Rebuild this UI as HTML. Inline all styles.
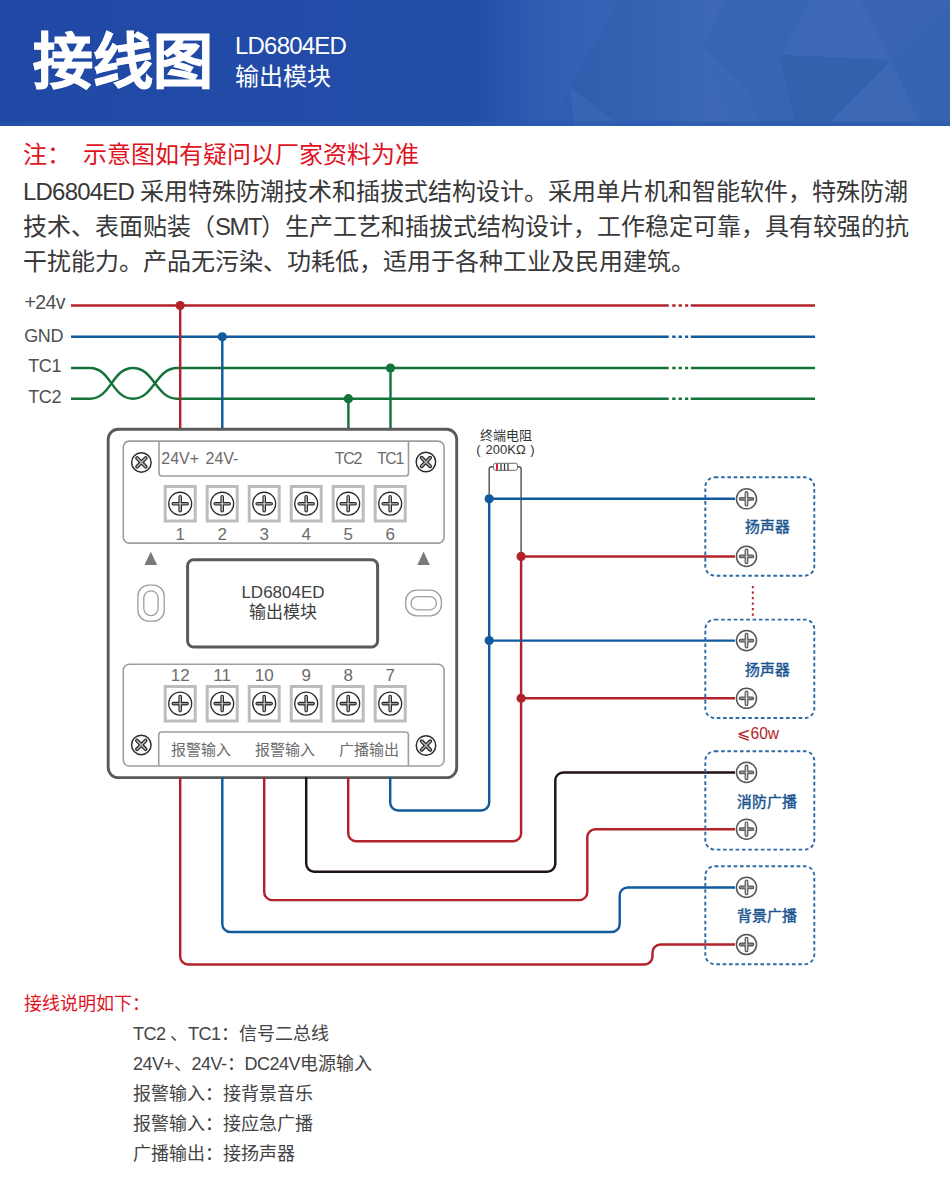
<!DOCTYPE html>
<html lang="zh-CN"><head><meta charset="utf-8">
<style>
html,body{margin:0;padding:0;background:#fff;}
body{width:950px;height:1179px;position:relative;overflow:hidden;font-family:"Liberation Sans",sans-serif;}
.abs{position:absolute;white-space:nowrap;}
#banner{position:absolute;left:0;top:0;width:950px;height:126px;}
.t1{left:33px;top:28px;font-size:60px;font-weight:900;-webkit-text-stroke:1px #fff;color:#fff;line-height:70px;}
.t2{left:235px;top:30px;font-size:24px;color:#fff;line-height:31px;}
.lat{letter-spacing:-0.8px;}
.note{left:23px;top:139px;font-size:24px;color:#e0141e;line-height:32px;}
.para{left:23px;top:174px;font-size:24px;color:#383838;line-height:35px;}
svg{position:absolute;left:0;top:0;}
</style></head>
<body>
<svg id="banner" width="950" height="126" viewBox="0 0 950 126">
  <defs>
    <linearGradient id="bg" x1="0" y1="0" x2="950" y2="0" gradientUnits="userSpaceOnUse">
      <stop offset="0" stop-color="#2048a5"/>
      <stop offset="0.5" stop-color="#234ea8"/>
      <stop offset="0.64" stop-color="#305eb1"/>
      <stop offset="1" stop-color="#3a66b5"/>
    </linearGradient>
    <linearGradient id="wg" x1="470" y1="0" x2="619" y2="0" gradientUnits="userSpaceOnUse">
      <stop offset="0" stop-color="#3665b6" stop-opacity="0"/>
      <stop offset="1" stop-color="#3665b6" stop-opacity="0.85"/>
    </linearGradient>
    <linearGradient id="df" x1="580" y1="0" x2="704" y2="0" gradientUnits="userSpaceOnUse">
      <stop offset="0" stop-color="#305dae"/>
      <stop offset="1" stop-color="#3a67b6"/>
    </linearGradient>
  </defs>
  <rect width="950" height="126" fill="url(#bg)"/>
  <polygon points="470,0 619,0 570,87 552,126 470,126" fill="url(#wg)"/>
  <polygon points="619,0 700,0 704,126 621,126 570,87" fill="url(#df)"/>
  <polygon points="570,87 552,126 574,126" fill="#2f5db0"/>
  <polygon points="570,87 574,126 621,126" fill="#3866b5"/>
  <polygon points="700,0 725,0 703.6,47 747,89 760,126 704,126" fill="#3c68b7"/>
  <polygon points="725,0 810,0 780,55 796,126 760,126 747,89 703.6,47" fill="#3864b4"/>
  <polygon points="703.6,47 747,89 760,126 730,126" fill="#3a67b6"/>
  <polygon points="810,0 861,0 891,60 780,55" fill="#3d68b7"/>
  <polygon points="780,55 891,60 827,126 796,126" fill="#3461ae"/>
  <polygon points="891,60 921,126 827,126" fill="#3c68b6"/>
  <polygon points="861,0 950,0 950,10 930,22 891,60" fill="#3864b3"/>
  <polygon points="891,60 930,22 950,10 950,126 921,126" fill="#3764b2"/>
  <rect x="0" y="121.5" width="950" height="4.5" fill="#2a56ad" opacity="0.6"/>
</svg>
<div class="abs t1">接线图</div>
<div class="abs t2"><span class="lat">LD6804ED</span><br>输出模块</div>
<div class="abs note">注：<span style="margin-left:11.5px">示意图如有疑问以厂家资料为准</span></div>
<div class="abs para"><span class="lat">LD6804ED </span>采用特殊防潮技术和插拔式结构设计。采用单片机和智能软件，特殊防潮<br>技术、表面贴装（<span class="lat" style="letter-spacing:-1.5px">SMT</span>）生产工艺和插拔式结构设计，工作稳定可靠，具有较强的抗<br>干扰能力。产品无污染、功耗低，适用于各种工业及民用建筑。</div>

<div class="abs" style="left:24px;top:989px;font-size:18px;line-height:30px;color:#e0141e;">接线说明如下：</div>
<div class="abs" style="left:133px;top:1019px;font-size:18px;line-height:30px;color:#444;"><span class="lat" style="letter-spacing:-0.5px">TC2 </span>、<span class="lat" style="letter-spacing:-0.5px">TC1</span>：信号二总线<br><span class="lat" style="letter-spacing:-0.5px">24V+</span>、<span class="lat" style="letter-spacing:-0.5px">24V-</span>：<span class="lat" style="letter-spacing:-0.5px">DC24V</span>电源输入<br>报警输入：接背景音乐<br>报警输入：接应急广播<br>广播输出：接扬声器</div>
<svg width="950" height="1179" viewBox="0 0 950 1179" style="top:0">
<path d="M71,305.5H668.7M690.8,305.5H815" stroke="#b3222a" stroke-width="2.45" fill="none"/>
<path d="M672.2,305.5H675.6M678.6,305.5H681.9M685.1,305.5H688.2" stroke="#b3222a" stroke-width="2.45" fill="none"/>
<path d="M71,336.8H668.7M690.8,336.8H815" stroke="#115a9e" stroke-width="2.45" fill="none"/>
<path d="M672.2,336.8H675.6M678.6,336.8H681.9M685.1,336.8H688.2" stroke="#115a9e" stroke-width="2.45" fill="none"/>
<path d="M177,368H668.7M690.8,368H815" stroke="#14733a" stroke-width="2.45" fill="none"/>
<path d="M672.2,368H675.6M678.6,368H681.9M685.1,368H688.2" stroke="#14733a" stroke-width="2.45" fill="none"/>
<path d="M177,398.7H668.7M690.8,398.7H815" stroke="#14733a" stroke-width="2.45" fill="none"/>
<path d="M672.2,398.7H675.6M678.6,398.7H681.9M685.1,398.7H688.2" stroke="#14733a" stroke-width="2.45" fill="none"/>
<path d="M71,368H90C111,368 112,398.7 133,398.7C154,398.7 156,368 177,368" stroke="#14733a" stroke-width="2.45" fill="none"/>
<path d="M71,398.7H90C111,398.7 112,368 133,368C154,368 156,398.7 177,398.7" stroke="#14733a" stroke-width="2.45" fill="none"/>
<path d="M180.2,305.5V430" stroke="#b3222a" stroke-width="2.45"/>
<circle cx="180.2" cy="305.5" r="4.6" fill="#b3222a"/>
<path d="M222.3,336.8V430" stroke="#115a9e" stroke-width="2.45"/>
<circle cx="222.3" cy="336.8" r="4.6" fill="#115a9e"/>
<path d="M348.4,398.7V430" stroke="#14733a" stroke-width="2.45"/>
<circle cx="348.4" cy="398.7" r="4.6" fill="#14733a"/>
<path d="M390.5,368V430" stroke="#14733a" stroke-width="2.45"/>
<circle cx="390.5" cy="368" r="4.6" fill="#14733a"/>
<g font-size="18" fill="#505050" text-anchor="end" letter-spacing="-0.4">
<text x="65" y="308.8" font-size="19.5" letter-spacing="-0.6">+24v</text><text x="63" y="341.8">GND</text><text x="61" y="372">TC1</text><text x="61" y="402.5">TC2</text>
</g>
<rect x="108.2" y="429.3" width="348.5" height="348.3" rx="10" fill="#fff" stroke="#5a5a5a" stroke-width="2.9"/>
<rect x="123.3" y="441.1" width="320.8" height="102" rx="6" fill="none" stroke="#9e9e9e" stroke-width="1.6"/>
<path d="M159,441.1V473a3,3 0 0 0 3,3H405.5a3,3 0 0 0 3,-3V441.1" fill="none" stroke="#9e9e9e" stroke-width="1.6"/>
<rect x="123.3" y="664.2" width="320.8" height="101.8" rx="6" fill="none" stroke="#9e9e9e" stroke-width="1.6"/>
<path d="M158.7,766V735a3,3 0 0 1 3,-3H405.4a3,3 0 0 1 3,3V766" fill="none" stroke="#9e9e9e" stroke-width="1.6"/>
<circle cx="141.4" cy="462.4" r="9.75" fill="#fff" stroke="#2b2b2b" stroke-width="1.45"/>
<path d="M137.1,458.09999999999997L145.70000000000002,466.7M145.70000000000002,458.09999999999997L137.1,466.7" stroke="#2b2b2b" stroke-width="3.9" stroke-linecap="round"/>
<path d="M137.1,458.09999999999997L145.70000000000002,466.7M145.70000000000002,458.09999999999997L137.1,466.7" stroke="#b0b0b0" stroke-width="1.5" stroke-linecap="round"/>
<circle cx="425.9" cy="462" r="9.75" fill="#fff" stroke="#2b2b2b" stroke-width="1.45"/>
<path d="M421.59999999999997,457.7L430.2,466.3M430.2,457.7L421.59999999999997,466.3" stroke="#2b2b2b" stroke-width="3.9" stroke-linecap="round"/>
<path d="M421.59999999999997,457.7L430.2,466.3M430.2,457.7L421.59999999999997,466.3" stroke="#b0b0b0" stroke-width="1.5" stroke-linecap="round"/>
<circle cx="141.3" cy="744.9" r="9.75" fill="#fff" stroke="#2b2b2b" stroke-width="1.45"/>
<path d="M137.0,740.6L145.60000000000002,749.1999999999999M145.60000000000002,740.6L137.0,749.1999999999999" stroke="#2b2b2b" stroke-width="3.9" stroke-linecap="round"/>
<path d="M137.0,740.6L145.60000000000002,749.1999999999999M145.60000000000002,740.6L137.0,749.1999999999999" stroke="#b0b0b0" stroke-width="1.5" stroke-linecap="round"/>
<circle cx="426" cy="745.5" r="9.75" fill="#fff" stroke="#2b2b2b" stroke-width="1.45"/>
<path d="M421.7,741.2L430.3,749.8M430.3,741.2L421.7,749.8" stroke="#2b2b2b" stroke-width="3.9" stroke-linecap="round"/>
<path d="M421.7,741.2L430.3,749.8M430.3,741.2L421.7,749.8" stroke="#b0b0b0" stroke-width="1.5" stroke-linecap="round"/>
<rect x="165.2" y="486.5" width="30" height="34.5" fill="#fff" stroke="#bcbcbc" stroke-width="3"/>
<circle cx="180.2" cy="503.7" r="11.45" fill="#fff" stroke="#2b2b2b" stroke-width="1.35"/>
<path d="M173.2,503.7H187.2M180.2,496.7V510.7" stroke="#2b2b2b" stroke-width="3.6" stroke-linecap="round"/>
<path d="M173.2,503.7H187.2" stroke="#9a9a9a" stroke-width="1.4" stroke-linecap="round"/>
<path d="M180.2,496.7V510.7" stroke="#d8d8d8" stroke-width="1.2000000000000002" stroke-linecap="round"/>
<rect x="165.2" y="686.5" width="30" height="34.5" fill="#fff" stroke="#bcbcbc" stroke-width="3"/>
<circle cx="180.2" cy="703.6" r="11.45" fill="#fff" stroke="#2b2b2b" stroke-width="1.35"/>
<path d="M173.2,703.6H187.2M180.2,696.6V710.6" stroke="#2b2b2b" stroke-width="3.6" stroke-linecap="round"/>
<path d="M173.2,703.6H187.2" stroke="#9a9a9a" stroke-width="1.4" stroke-linecap="round"/>
<path d="M180.2,696.6V710.6" stroke="#d8d8d8" stroke-width="1.2000000000000002" stroke-linecap="round"/>
<rect x="207.2" y="486.5" width="30" height="34.5" fill="#fff" stroke="#bcbcbc" stroke-width="3"/>
<circle cx="222.2" cy="503.7" r="11.45" fill="#fff" stroke="#2b2b2b" stroke-width="1.35"/>
<path d="M215.2,503.7H229.2M222.2,496.7V510.7" stroke="#2b2b2b" stroke-width="3.6" stroke-linecap="round"/>
<path d="M215.2,503.7H229.2" stroke="#9a9a9a" stroke-width="1.4" stroke-linecap="round"/>
<path d="M222.2,496.7V510.7" stroke="#d8d8d8" stroke-width="1.2000000000000002" stroke-linecap="round"/>
<rect x="207.2" y="686.5" width="30" height="34.5" fill="#fff" stroke="#bcbcbc" stroke-width="3"/>
<circle cx="222.2" cy="703.6" r="11.45" fill="#fff" stroke="#2b2b2b" stroke-width="1.35"/>
<path d="M215.2,703.6H229.2M222.2,696.6V710.6" stroke="#2b2b2b" stroke-width="3.6" stroke-linecap="round"/>
<path d="M215.2,703.6H229.2" stroke="#9a9a9a" stroke-width="1.4" stroke-linecap="round"/>
<path d="M222.2,696.6V710.6" stroke="#d8d8d8" stroke-width="1.2000000000000002" stroke-linecap="round"/>
<rect x="249.2" y="486.5" width="30" height="34.5" fill="#fff" stroke="#bcbcbc" stroke-width="3"/>
<circle cx="264.2" cy="503.7" r="11.45" fill="#fff" stroke="#2b2b2b" stroke-width="1.35"/>
<path d="M257.2,503.7H271.2M264.2,496.7V510.7" stroke="#2b2b2b" stroke-width="3.6" stroke-linecap="round"/>
<path d="M257.2,503.7H271.2" stroke="#9a9a9a" stroke-width="1.4" stroke-linecap="round"/>
<path d="M264.2,496.7V510.7" stroke="#d8d8d8" stroke-width="1.2000000000000002" stroke-linecap="round"/>
<rect x="249.2" y="686.5" width="30" height="34.5" fill="#fff" stroke="#bcbcbc" stroke-width="3"/>
<circle cx="264.2" cy="703.6" r="11.45" fill="#fff" stroke="#2b2b2b" stroke-width="1.35"/>
<path d="M257.2,703.6H271.2M264.2,696.6V710.6" stroke="#2b2b2b" stroke-width="3.6" stroke-linecap="round"/>
<path d="M257.2,703.6H271.2" stroke="#9a9a9a" stroke-width="1.4" stroke-linecap="round"/>
<path d="M264.2,696.6V710.6" stroke="#d8d8d8" stroke-width="1.2000000000000002" stroke-linecap="round"/>
<rect x="291.2" y="486.5" width="30" height="34.5" fill="#fff" stroke="#bcbcbc" stroke-width="3"/>
<circle cx="306.2" cy="503.7" r="11.45" fill="#fff" stroke="#2b2b2b" stroke-width="1.35"/>
<path d="M299.2,503.7H313.2M306.2,496.7V510.7" stroke="#2b2b2b" stroke-width="3.6" stroke-linecap="round"/>
<path d="M299.2,503.7H313.2" stroke="#9a9a9a" stroke-width="1.4" stroke-linecap="round"/>
<path d="M306.2,496.7V510.7" stroke="#d8d8d8" stroke-width="1.2000000000000002" stroke-linecap="round"/>
<rect x="291.2" y="686.5" width="30" height="34.5" fill="#fff" stroke="#bcbcbc" stroke-width="3"/>
<circle cx="306.2" cy="703.6" r="11.45" fill="#fff" stroke="#2b2b2b" stroke-width="1.35"/>
<path d="M299.2,703.6H313.2M306.2,696.6V710.6" stroke="#2b2b2b" stroke-width="3.6" stroke-linecap="round"/>
<path d="M299.2,703.6H313.2" stroke="#9a9a9a" stroke-width="1.4" stroke-linecap="round"/>
<path d="M306.2,696.6V710.6" stroke="#d8d8d8" stroke-width="1.2000000000000002" stroke-linecap="round"/>
<rect x="333.2" y="486.5" width="30" height="34.5" fill="#fff" stroke="#bcbcbc" stroke-width="3"/>
<circle cx="348.2" cy="503.7" r="11.45" fill="#fff" stroke="#2b2b2b" stroke-width="1.35"/>
<path d="M341.2,503.7H355.2M348.2,496.7V510.7" stroke="#2b2b2b" stroke-width="3.6" stroke-linecap="round"/>
<path d="M341.2,503.7H355.2" stroke="#9a9a9a" stroke-width="1.4" stroke-linecap="round"/>
<path d="M348.2,496.7V510.7" stroke="#d8d8d8" stroke-width="1.2000000000000002" stroke-linecap="round"/>
<rect x="333.2" y="686.5" width="30" height="34.5" fill="#fff" stroke="#bcbcbc" stroke-width="3"/>
<circle cx="348.2" cy="703.6" r="11.45" fill="#fff" stroke="#2b2b2b" stroke-width="1.35"/>
<path d="M341.2,703.6H355.2M348.2,696.6V710.6" stroke="#2b2b2b" stroke-width="3.6" stroke-linecap="round"/>
<path d="M341.2,703.6H355.2" stroke="#9a9a9a" stroke-width="1.4" stroke-linecap="round"/>
<path d="M348.2,696.6V710.6" stroke="#d8d8d8" stroke-width="1.2000000000000002" stroke-linecap="round"/>
<rect x="375.2" y="486.5" width="30" height="34.5" fill="#fff" stroke="#bcbcbc" stroke-width="3"/>
<circle cx="390.2" cy="503.7" r="11.45" fill="#fff" stroke="#2b2b2b" stroke-width="1.35"/>
<path d="M383.2,503.7H397.2M390.2,496.7V510.7" stroke="#2b2b2b" stroke-width="3.6" stroke-linecap="round"/>
<path d="M383.2,503.7H397.2" stroke="#9a9a9a" stroke-width="1.4" stroke-linecap="round"/>
<path d="M390.2,496.7V510.7" stroke="#d8d8d8" stroke-width="1.2000000000000002" stroke-linecap="round"/>
<rect x="375.2" y="686.5" width="30" height="34.5" fill="#fff" stroke="#bcbcbc" stroke-width="3"/>
<circle cx="390.2" cy="703.6" r="11.45" fill="#fff" stroke="#2b2b2b" stroke-width="1.35"/>
<path d="M383.2,703.6H397.2M390.2,696.6V710.6" stroke="#2b2b2b" stroke-width="3.6" stroke-linecap="round"/>
<path d="M383.2,703.6H397.2" stroke="#9a9a9a" stroke-width="1.4" stroke-linecap="round"/>
<path d="M390.2,696.6V710.6" stroke="#d8d8d8" stroke-width="1.2000000000000002" stroke-linecap="round"/>
<g font-size="17" fill="#6b6b6b" text-anchor="middle">
<text x="180.2" y="539.5">1</text>
<text x="180.2" y="681">12</text>
<text x="222.2" y="539.5">2</text>
<text x="222.2" y="681">11</text>
<text x="264.2" y="539.5">3</text>
<text x="264.2" y="681">10</text>
<text x="306.2" y="539.5">4</text>
<text x="306.2" y="681">9</text>
<text x="348.2" y="539.5">5</text>
<text x="348.2" y="681">8</text>
<text x="390.2" y="539.5">6</text>
<text x="390.2" y="681">7</text>
</g>
<g font-size="16" fill="#6b6b6b">
<text x="161.3" y="463.8">24V+</text><text x="205.5" y="463.8">24V-</text><text x="334.8" y="463.8" letter-spacing="-1.3">TC2</text><text x="376.9" y="463.8" letter-spacing="-1.3">TC1</text>
</g>
<g font-size="15" fill="#6b6b6b">
<text x="171" y="754.5">报警输入</text><text x="254.7" y="754.5">报警输入</text><text x="338.6" y="754.5">广播输出</text>
</g>
<path d="M150.8,551.7L157.2,565H144.4Z" fill="#7a7a7a"/><path d="M423.6,551.6L429.8,565H417.4Z" fill="#7a7a7a"/>
<rect x="137.9" y="585.1" width="26.3" height="36.1" rx="11" fill="none" stroke="#9e9e9e" stroke-width="1.3"/>
<rect x="143.8" y="590.8" width="14.3" height="24.8" rx="7.1" fill="none" stroke="#9e9e9e" stroke-width="1.3"/>
<rect x="405.6" y="590.2" width="35.8" height="25.6" rx="11" fill="none" stroke="#9e9e9e" stroke-width="1.3"/>
<rect x="411" y="596.6" width="25.4" height="13.2" rx="6.6" fill="none" stroke="#9e9e9e" stroke-width="1.3"/>
<rect x="187.6" y="559.8" width="190" height="87.2" rx="6" fill="none" stroke="#5a5a5a" stroke-width="3"/>
<g font-size="17" fill="#404040" text-anchor="middle"><text x="283" y="598">LD6804ED</text><text x="282.5" y="618">输出模块</text></g>
<path d="M180.2,777V956.4a8,8 0 0 0 8,8H644.5a8,8 0 0 0 8,-8V952.5a8,8 0 0 1 8,-8H735" stroke="#b3222a" stroke-width="2.45" fill="none" stroke-linejoin="round"/>
<path d="M222.3,777V923.9a8,8 0 0 0 8,8H611.7a8,8 0 0 0 8,-8V895.4a8,8 0 0 1 8,-8H735" stroke="#115a9e" stroke-width="2.45" fill="none" stroke-linejoin="round"/>
<path d="M264.2,777V892.1a8,8 0 0 0 8,8H579.3a8,8 0 0 0 8,-8V837.2a8,8 0 0 1 8,-8H735" stroke="#b3222a" stroke-width="2.45" fill="none" stroke-linejoin="round"/>
<path d="M306.2,777V863.8a8,8 0 0 0 8,8H547.3a8,8 0 0 0 8,-8V780.4a8,8 0 0 1 8,-8H735" stroke="#1e1212" stroke-width="2.45" fill="none" stroke-linejoin="round"/>
<path d="M348.2,777V833.2a8,8 0 0 0 8,8H513.1a8,8 0 0 0 8,-8V556.3" stroke="#b3222a" stroke-width="2.45" fill="none" stroke-linejoin="round"/>
<path d="M390.2,777V802.4a8,8 0 0 0 8,8H481.2a8,8 0 0 0 8,-8V498.8" stroke="#115a9e" stroke-width="2.45" fill="none" stroke-linejoin="round"/>
<path d="M494,466.7H491.5a2.3,2.3 0 0 0 -2.3,2.3V498.8M517,466.7H518.8a2.3,2.3 0 0 1 2.3,2.3V556.4" stroke="#5a5a5a" stroke-width="1.5" fill="none"/>
<rect x="493.5" y="463.3" width="24" height="7" rx="2" fill="#fff" stroke="#6a6a6a" stroke-width="1"/>
<path d="M497,463.8V470.2" stroke="#d9262e" stroke-width="2"/><path d="M501,463.8V470.2M504.5,463.8V470.2M508,463.8V470.2" stroke="#333" stroke-width="1.2"/>
<g font-size="13" fill="#333" text-anchor="middle"><text x="506" y="440.3">终端电阻</text><text x="505.6" y="453.6">200KΩ</text></g>
<g font-size="13" fill="#333"><text x="476.2" y="453.6">(</text><text x="530.3" y="453.6">)</text></g>
<path d="M489.2,498.8H735" stroke="#115a9e" stroke-width="2.45" fill="none" stroke-linejoin="round"/>
<circle cx="489.2" cy="498.8" r="4.6" fill="#115a9e"/>
<path d="M489.2,640.6H735" stroke="#115a9e" stroke-width="2.45" fill="none" stroke-linejoin="round"/>
<circle cx="489.2" cy="640.6" r="4.6" fill="#115a9e"/>
<path d="M521.1,556.4H735" stroke="#b3222a" stroke-width="2.45" fill="none" stroke-linejoin="round"/>
<circle cx="521.1" cy="556.4" r="4.6" fill="#b3222a"/>
<path d="M521.1,698.3H735" stroke="#b3222a" stroke-width="2.45" fill="none" stroke-linejoin="round"/>
<circle cx="521.1" cy="698.3" r="4.6" fill="#b3222a"/>
<rect x="705.3" y="477.3" width="109" height="98.4" rx="9.5" fill="none" stroke="#2b6aa6" stroke-width="1.9" stroke-dasharray="3.6 2.7"/>
<rect x="705.3" y="619.6" width="109" height="98.4" rx="9.5" fill="none" stroke="#2b6aa6" stroke-width="1.9" stroke-dasharray="3.6 2.7"/>
<rect x="705.3" y="751.2" width="109" height="98.4" rx="9.5" fill="none" stroke="#2b6aa6" stroke-width="1.9" stroke-dasharray="3.6 2.7"/>
<rect x="705.3" y="866.2" width="109" height="98.0" rx="9.5" fill="none" stroke="#2b6aa6" stroke-width="1.9" stroke-dasharray="3.6 2.7"/>
<path d="M752.8,586V616" stroke="#b3222a" stroke-width="1.9" stroke-dasharray="2.2 3.3"/>
<circle cx="746.5" cy="498.8" r="10.05" fill="#fff" stroke="#555555" stroke-width="1.5"/>
<path d="M740.6,498.8H752.4M746.5,492.90000000000003V504.7" stroke="#555555" stroke-width="3.8" stroke-linecap="round"/>
<path d="M740.6,498.8H752.4" stroke="#8a8a8a" stroke-width="1.5999999999999996" stroke-linecap="round"/>
<path d="M746.5,492.90000000000003V504.7" stroke="#d8d8d8" stroke-width="1.4" stroke-linecap="round"/>
<circle cx="746.5" cy="556.4" r="10.05" fill="#fff" stroke="#555555" stroke-width="1.5"/>
<path d="M740.6,556.4H752.4M746.5,550.5V562.3" stroke="#555555" stroke-width="3.8" stroke-linecap="round"/>
<path d="M740.6,556.4H752.4" stroke="#8a8a8a" stroke-width="1.5999999999999996" stroke-linecap="round"/>
<path d="M746.5,550.5V562.3" stroke="#d8d8d8" stroke-width="1.4" stroke-linecap="round"/>
<circle cx="746.5" cy="640.6" r="10.05" fill="#fff" stroke="#555555" stroke-width="1.5"/>
<path d="M740.6,640.6H752.4M746.5,634.7V646.5" stroke="#555555" stroke-width="3.8" stroke-linecap="round"/>
<path d="M740.6,640.6H752.4" stroke="#8a8a8a" stroke-width="1.5999999999999996" stroke-linecap="round"/>
<path d="M746.5,634.7V646.5" stroke="#d8d8d8" stroke-width="1.4" stroke-linecap="round"/>
<circle cx="746.5" cy="698.3" r="10.05" fill="#fff" stroke="#555555" stroke-width="1.5"/>
<path d="M740.6,698.3H752.4M746.5,692.4V704.1999999999999" stroke="#555555" stroke-width="3.8" stroke-linecap="round"/>
<path d="M740.6,698.3H752.4" stroke="#8a8a8a" stroke-width="1.5999999999999996" stroke-linecap="round"/>
<path d="M746.5,692.4V704.1999999999999" stroke="#d8d8d8" stroke-width="1.4" stroke-linecap="round"/>
<circle cx="746.5" cy="772.4" r="10.05" fill="#fff" stroke="#555555" stroke-width="1.5"/>
<path d="M740.6,772.4H752.4M746.5,766.5V778.3" stroke="#555555" stroke-width="3.8" stroke-linecap="round"/>
<path d="M740.6,772.4H752.4" stroke="#8a8a8a" stroke-width="1.5999999999999996" stroke-linecap="round"/>
<path d="M746.5,766.5V778.3" stroke="#d8d8d8" stroke-width="1.4" stroke-linecap="round"/>
<circle cx="746.5" cy="829.2" r="10.05" fill="#fff" stroke="#555555" stroke-width="1.5"/>
<path d="M740.6,829.2H752.4M746.5,823.3000000000001V835.1" stroke="#555555" stroke-width="3.8" stroke-linecap="round"/>
<path d="M740.6,829.2H752.4" stroke="#8a8a8a" stroke-width="1.5999999999999996" stroke-linecap="round"/>
<path d="M746.5,823.3000000000001V835.1" stroke="#d8d8d8" stroke-width="1.4" stroke-linecap="round"/>
<circle cx="746.5" cy="887.4" r="10.05" fill="#fff" stroke="#555555" stroke-width="1.5"/>
<path d="M740.6,887.4H752.4M746.5,881.5V893.3" stroke="#555555" stroke-width="3.8" stroke-linecap="round"/>
<path d="M740.6,887.4H752.4" stroke="#8a8a8a" stroke-width="1.5999999999999996" stroke-linecap="round"/>
<path d="M746.5,881.5V893.3" stroke="#d8d8d8" stroke-width="1.4" stroke-linecap="round"/>
<circle cx="746.5" cy="944.5" r="10.05" fill="#fff" stroke="#555555" stroke-width="1.5"/>
<path d="M740.6,944.5H752.4M746.5,938.6V950.4" stroke="#555555" stroke-width="3.8" stroke-linecap="round"/>
<path d="M740.6,944.5H752.4" stroke="#8a8a8a" stroke-width="1.5999999999999996" stroke-linecap="round"/>
<path d="M746.5,938.6V950.4" stroke="#d8d8d8" stroke-width="1.4" stroke-linecap="round"/>
<g font-size="14.8" fill="#1b5591" stroke="#1b5591" stroke-width="0.45" text-anchor="middle">
<text x="767" y="531.5">扬声器</text><text x="767" y="675">扬声器</text><text x="766.5" y="807">消防广播</text><text x="766.5" y="920.5">背景广播</text>
</g>
<text x="758.3" y="738.6" font-size="15.6" fill="#b3222a" text-anchor="middle">⩽60w</text>
</svg>
</body></html>
